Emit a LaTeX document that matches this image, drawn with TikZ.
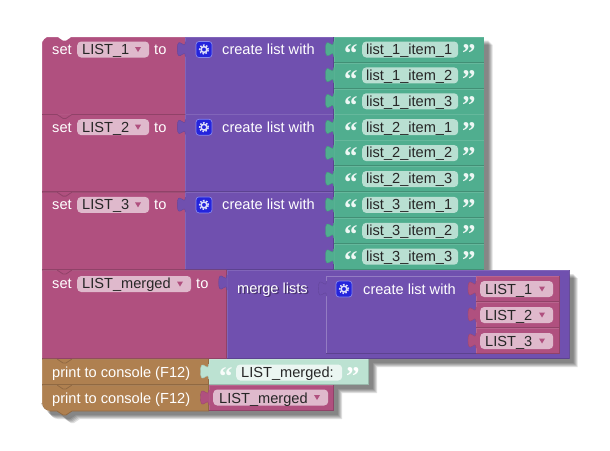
\documentclass[tikz,border=0pt]{standalone}
\usepackage{fontspec}
\setmainfont{Liberation Sans}
\newfontfamily\quotefont{Liberation Serif}
\definecolor{varcol}{HTML}{B0507F}
\definecolor{listcol}{HTML}{7050AF}
\definecolor{textcol}{HTML}{50AE8F}
\definecolor{printcol}{HTML}{AF8050}
\definecolor{quotecol}{HTML}{BCE2D2}
\definecolor{varpill}{HTML}{DFB9CC}
\definecolor{textpill}{HTML}{B9DFD2}
\definecolor{gearcol}{HTML}{2424DC}
\tikzset{
  x=1pt, y=-1pt,
  lab/.style={anchor=base west, inner sep=0pt, text=white, font=\fontsize{14.6}{16}\selectfont},
  fieldlab/.style={anchor=base west, inner sep=0pt, text=black!85, font=\fontsize{14.6}{16}\selectfont},
  pillbox/.style={anchor=west, inner sep=0pt, minimum height=16pt, rounded corners=4pt},
  quotemark/.style={anchor=base west, inner sep=0pt, font=\quotefont\bfseries\fontsize{27}{27}\selectfont},
  gearbox/.style={inner sep=0pt, minimum size=16pt, rounded corners=3pt, fill=gearcol, draw=gearcol!55!white, line width=0.7pt},
}
% x1, y1, x2, y2, colour
\newcommand{\blockrect}[5]{
  \fill[#5] (#1,#2) rectangle (#3,#4);
  \draw[#5!88!white, line width=0.7pt] (#1+0.4,#4) -- (#1+0.4,#2+0.4) -- (#3,#2+0.4);
  \draw[#5!82!black, line width=0.8pt] (#1,#4-0.4) -- (#3-0.4,#4-0.4) -- (#3-0.4,#2);
}
% x, y of the block top, colour
\newcommand{\vtab}[3]{
  \fill[#3, shift={(#1,#2)}] (1,5) -- (0,5) .. controls (0,15) and (-8,-3) .. (-8,12.5)
    .. controls (-8,28) and (0,10) .. (0,20) -- (1,20) -- cycle;
  \draw[#3!88!black, line width=0.4pt, shift={(#1,#2)}] (0,5) .. controls (0,15) and (-8,-3) .. (-8,12.5)
    .. controls (-8,28) and (0,10) .. (0,20);
}
% name, x, y centre, width
\newcommand{\varfield}[4]{
  \node[pillbox, fill=varpill, minimum width=#4pt] (#1) at (#2,#3) {};
  \fill[varcol] (#2+#4-14,#3-2.5) -- (#2+#4-8,#3-2.5) -- (#2+#4-11,#3+2.5) -- cycle;
}
% name, x, y centre
\newcommand{\gearicon}[3]{
  \node[gearbox] (#1) at (#2,#3) {};
  \draw[white!85!gearcol, line width=1.5pt, dash pattern=on 1.6pt off 1.5pt] (#1.center) circle (4.4pt);
  \draw[white!85!gearcol, line width=1.5pt] (#1.center) circle (2.9pt);
}
% y of the block top, x of the join, colour
\newcommand{\bump}[3]{
  \fill[#3] (57,#1) -- (63,#1+4) -- (66,#1+4) -- (72,#1) -- cycle;
  \draw[#3!82!black, line width=0.8pt] (42,#1) -- (57,#1) -- (63,#1+4) -- (66,#1+4) -- (72,#1) -- (#2,#1);
}
\newcommand{\blockoutline}{(42,44.7) arc[start angle=180, end angle=270, radius=8] -- (57,36.7) -- (63,40.7)
  -- (66,40.7) -- (72,36.7) -- (484.5,36.7) -- (484.5,270) -- (569.5,270) -- (569.5,359) -- (369,359)
  -- (369,385) -- (334,385) -- (334,411) -- (72,411) -- (66,415) -- (63,415) -- (57,411) -- (50,411)
  arc[start angle=90, end angle=180, radius=8] -- cycle}

\begin{document}
\begin{tikzpicture}
  \useasboundingbox (0,0) rectangle (610,450);

  % Shadow
  \foreach \s in {4,5,6,7,8}
    \fill[black, opacity=0.12, shift={(\s,\s)}] \blockoutline;

  \begin{scope}
    \clip \blockoutline;

    % Three list blocks
    \foreach \k in {1,2,3} {
      \pgfmathsetmacro{\ytop}{36.7+77.7*(\k-1)}
      \blockrect{42}{\ytop}{185.3}{\ytop+77.7}{varcol}
      \blockrect{185.3}{\ytop}{333.5}{\ytop+77.7}{listcol}
      \foreach \m in {1,2,3} {
        \pgfmathsetmacro{\yrow}{\ytop+25.9*(\m-1)}
        \blockrect{333.5}{\yrow}{484.5}{\yrow+25.9}{textcol}
        \vtab{333.5}{\yrow}{textcol}
      }
      \vtab{185.3}{\ytop}{listcol}
      \ifnum\k>1 \bump{\ytop}{185.3}{varcol} \fi
    }

    % Merged block
    \blockrect{42}{270}{226.7}{359}{varcol}
    \blockrect{226.7}{270}{569.5}{359}{listcol}
    \vtab{226.7}{270}{listcol}
    \bump{270}{226.7}{varcol}
    \draw[listcol!75!white, line width=0.7pt] (476,276.4) -- (326.4,276.4) -- (326.4,354);
    \draw[listcol!82!black, line width=0.8pt] (326.4,353.6) -- (476,353.6);
    \vtab{326.4}{276}{listcol}
    \foreach \m in {1,2,3} {
      \pgfmathsetmacro{\yrow}{276+26*(\m-1)}
      \blockrect{476}{\yrow}{559.5}{\yrow+26}{varcol}
      \vtab{476}{\yrow}{varcol}
    }

    % Print blocks
    \blockrect{42}{359}{208.5}{385}{printcol}
    \blockrect{42}{385}{208.5}{419}{printcol}
    \blockrect{208.5}{359}{369}{385}{quotecol}
    \blockrect{208.5}{385}{334}{411}{varcol}
    \vtab{208.5}{359}{quotecol}
    \vtab{208.5}{385}{varcol}
    \bump{359}{208.5}{printcol}
    \bump{385}{208.5}{printcol}
  \end{scope}
  \draw[printcol!82!black, line width=0.8pt] (42,403) arc[start angle=180, end angle=90, radius=8]
    -- (57,411) -- (63,415) -- (66,415) -- (72,411) -- (208.5,411);
  \fill[white] (42,411) -- (42,403) arc[start angle=180, end angle=90, radius=8] -- cycle;

  % Labels of the three list blocks
  \foreach \k in {1,2,3} {
    \pgfmathsetmacro{\ytop}{36.7+77.7*(\k-1)}
    \pgfmathsetmacro{\ymid}{\ytop+12.8}
    \pgfmathsetmacro{\ybase}{\ytop+17.6}
    \node[lab] (set\k) at (52,\ybase) {set};
    \varfield{var\k}{77}{\ymid}{72}
    \node[fieldlab] (varlab\k) at (82,\ybase) {LIST\_\k};
    \node[lab] (to\k) at (154,\ybase) {to};
    \gearicon{gear\k}{204}{\ymid}
    \node[lab] (create\k) at (222,\ybase) {create list with};
    \foreach \m in {1,2,3} {
      \pgfmathsetmacro{\yrmid}{\ymid+25.9*(\m-1)}
      \pgfmathsetmacro{\yrbase}{\ybase+25.9*(\m-1)}
      \node[quotemark, text=white!90!textcol] (open\k\m) at (344,\yrbase+8) {“};
      \node[pillbox, fill=textpill, minimum width=96pt] (item\k\m) at (362,\yrmid) {};
      \node[fieldlab] (itemlab\k\m) at (366,\yrbase) {list\_\k\_item\_\m};
      \node[quotemark, text=white!90!textcol] (close\k\m) at (462,\yrbase+8) {”};
    }
  }

  % Labels of the merged block
  \node[lab] (setm) at (52,288) {set};
  \varfield{varm}{77}{284}{114}
  \node[fieldlab] (varmlab) at (82,288) {LIST\_merged};
  \node[lab] (tom) at (196,288) {to};
  \node[lab] (merge) at (237,293) {\rlap{\hspace{1.5pt}\raisebox{-1.5pt}{\textcolor{listcol!62!black}{merge lists}}}merge lists};
  \gearicon{gearm}{344}{289}
  \node[lab] (createm) at (363,294) {create list with};
  \foreach \m in {1,2,3} {
    \pgfmathsetmacro{\yrow}{289+26*(\m-1)}
    \varfield{inner\m}{480}{\yrow}{73}
    \node[fieldlab] (innerlab\m) at (485,\yrow+5) {LIST\_\m};
  }

  % Labels of the print blocks
  \node[lab] (print1) at (52,377) {print to console (F12)};
  \node[lab] (print2) at (52,403) {print to console (F12)};
  \node[quotemark, text=white!90!quotecol] (openq) at (219,385) {“};
  \node[pillbox, fill=white!70!quotecol, minimum width=106pt] (pillq) at (236,372.5) {};
  \node[fieldlab] (labq) at (241,377) {LIST\_merged:};
  \node[quotemark, text=white] (closeq) at (346,385) {”};
  \varfield{varp}{213}{397.5}{115}
  \node[fieldlab] (varplab) at (219,403) {LIST\_merged};
\end{tikzpicture}
\end{document}
